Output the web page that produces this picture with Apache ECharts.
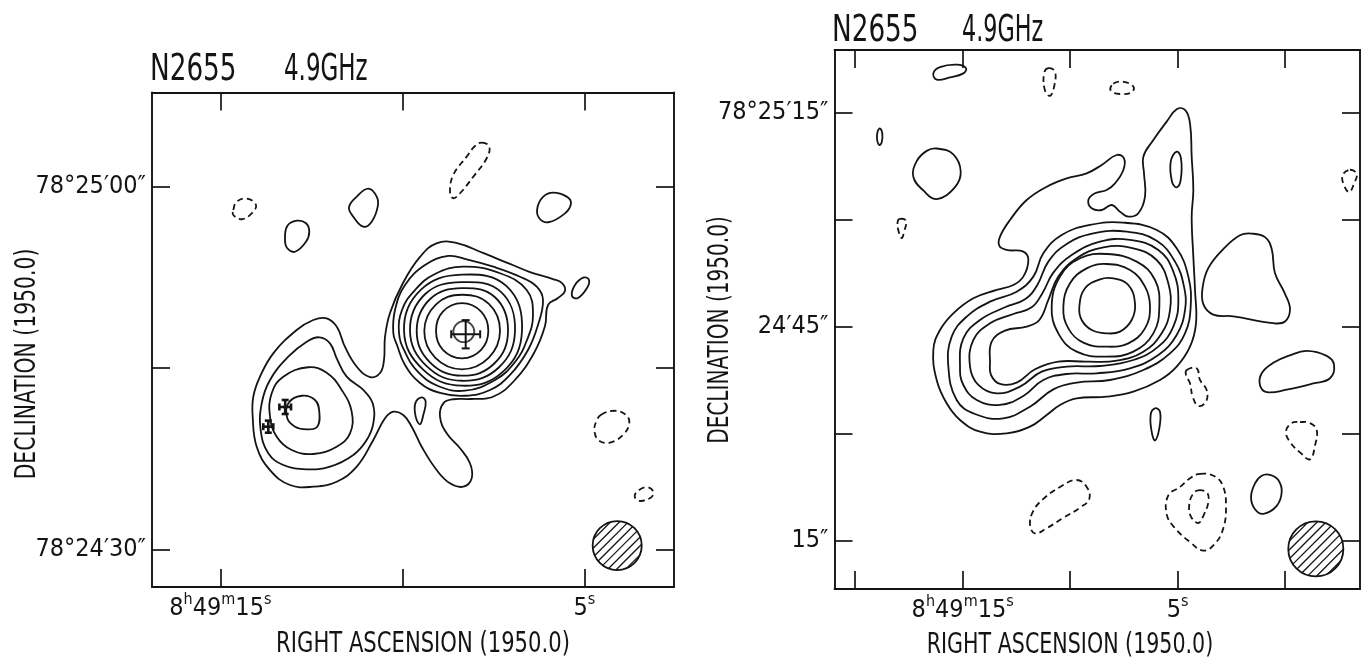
<!DOCTYPE html>
<html><head><meta charset="utf-8">
<script src="https://cdn.jsdelivr.net/npm/echarts@6/dist/echarts.min.js"></script>
<style>html,body{margin:0;padding:0;background:#fff}#c{width:1361px;height:662px}</style>
</head><body><div id="c"></div>
<script>
// ---------- LEFT PANEL (RA seconds of 8h49m, Dec arcsec past 78d24') ----------
const leftRaTicks = [15, 10, 5];
const leftRaLabels = [15, 5];
const leftDecTicks = [60, 45, 30];
const leftDecLabels = [60, 30];
const leftDecText = {60: '78°25′00″', 30: '78°24′30″'};

// positive contours
const L_C1 = [[14.113,40.99],[14.096,42.64],[13.912,44.30],[13.547,46.23],[12.904,48.16],[12.448,48.99],[12.080,49.13],[11.797,48.41],[11.577,46.76],[11.247,45.10],[10.890,44.27],[10.615,44.60],[10.505,45.68],[10.478,47.58],[10.341,49.57],[9.984,52.05],[9.516,54.21],[9.049,55.36],[8.500,55.36],[7.786,54.54],[7.044,53.63],[6.494,52.96],[5.862,52.38],[5.615,52.05],[5.533,51.39],[5.725,50.81],[6.000,50.23],[6.082,48.49],[6.384,46.26],[6.934,43.94],[7.511,42.64],[8.143,42.45],[8.602,42.43],[8.876,42.09],[8.967,40.99],[8.783,39.61],[8.417,38.37],[8.143,37.13],[8.096,35.89],[8.327,35.19],[8.692,35.47],[9.058,36.57],[9.470,38.50],[9.744,40.16],[9.975,41.13],[10.250,41.40],[10.478,40.85],[10.799,39.06],[11.255,36.85],[11.805,35.60],[12.448,35.19],[13.088,35.33],[13.637,36.57],[14.003,38.50]];
const L_C2 = [[12.283,47.56],[11.989,47.06],[11.805,45.82],[11.530,44.30],[11.074,43.20],[10.816,42.09],[10.799,40.44],[10.981,39.06],[11.349,37.82],[11.989,36.85],[12.629,36.63],[13.272,36.99],[13.684,37.96],[13.893,39.88],[13.865,42.09],[13.637,44.02],[13.135,45.95],[12.629,47.19]];
const L_C3 = [[12.585,45.08],[12.080,44.63],[11.667,43.20],[11.393,41.40],[11.439,39.61],[11.805,38.50],[12.448,37.90],[13.041,38.23],[13.453,39.33],[13.637,40.99],[13.591,42.92],[13.272,44.30]];
const L_C4 = [[12.766,42.72],[12.401,42.37],[12.283,41.40],[12.338,40.16],[12.629,39.94],[12.950,40.16],[13.162,40.85],[13.135,42.09]];
const L_R1 = [[8.739,54.29],[8.233,54.01],[7.503,53.40],[6.769,52.57],[6.310,51.75],[6.137,50.65],[6.275,48.58],[6.549,46.51],[7.044,44.44],[7.593,43.20],[8.280,42.72],[8.967,42.95],[9.516,43.78],[9.928,45.27],[10.148,46.92],[10.250,47.91],[10.203,49.82],[9.928,51.89],[9.379,53.54]];
const L_R2 = [[8.327,53.40],[7.318,52.86],[6.585,51.47],[6.412,49.40],[6.577,47.33],[6.906,45.51],[7.456,44.02],[8.280,43.14],[9.022,43.53],[9.571,44.69],[9.928,46.34],[10.093,47.91],[10.011,49.82],[9.654,51.47],[9.104,52.80]];
const L_R3 = [[6.714,48.10],[7.138,51.79],[8.362,52.74],[9.489,51.50],[9.955,48.10],[9.430,44.88],[8.362,43.55],[7.235,44.71]];
const L_R4 = [[6.906,48.10],[7.294,51.32],[8.362,52.12],[9.372,51.14],[9.791,48.10],[9.333,45.17],[8.362,43.96],[7.352,45.06]];
const L_R5 = [[7.098,48.10],[7.449,50.85],[8.362,51.62],[9.236,50.73],[9.607,48.10],[9.236,45.47],[8.362,44.38],[7.468,45.41]];
const L_R6 = [[7.318,48.10],[7.624,50.32],[8.362,51.08],[9.081,50.27],[9.398,48.10],[9.100,45.88],[8.362,44.91],[7.624,45.88]];
const L_R7 = [[7.639,48.10],[7.837,49.68],[8.362,50.38],[8.887,49.68],[9.076,48.10],[8.887,46.52],[8.362,45.82],[7.837,46.52]];
const L_P1 = [[12.904,57.21],[12.648,57.00],[12.558,56.30],[12.648,55.47],[12.950,54.64],[13.162,54.93],[13.225,55.61],[13.162,56.77]];
const L_P2 = [[10.937,59.86],[10.706,59.20],[10.678,58.37],[10.843,57.13],[11.074,56.71],[11.349,57.54],[11.467,58.32],[11.255,59.20]];
const L_P3 = [[5.854,59.53],[5.486,59.20],[5.368,58.65],[5.533,57.82],[5.991,57.08],[6.239,57.41],[6.294,58.24],[6.129,59.20]];
const L_P4 = [[5.011,52.51],[4.873,52.30],[4.928,51.64],[5.176,50.81],[5.340,50.98],[5.258,51.89]];
const L_P5 = [[9.470,42.59],[9.360,42.23],[9.426,41.13],[9.516,40.36],[9.635,40.99],[9.645,42.09]];
// negative contours
const L_N1 = [[14.645,58.10],[14.552,58.78],[14.277,59.03],[14.022,58.51],[14.140,57.82],[14.415,57.33],[14.645,57.68]];
const L_N2 = [[7.821,63.67],[7.612,63.34],[7.684,62.38],[8.052,60.85],[8.417,59.48],[8.601,59.07],[8.692,59.61],[8.601,61.00],[8.234,62.51],[8.005,63.39]];
const L_N3 = [[4.541,41.15],[4.173,41.48],[3.865,41.15],[3.766,40.50],[3.926,39.51],[4.297,38.85],[4.602,39.02],[4.725,39.83],[4.665,40.65]];
const L_N4 = [[3.497,34.91],[3.252,35.14],[3.104,34.74],[3.189,34.26],[3.497,34.02],[3.618,34.42]];
// source positions with errors: [ra, dec, errRa(s), errDec(")]
const L_sources = [[8.261,47.81,0.398,1.17],[13.220,41.79,0.160,0.58],[13.684,40.16,0.137,0.50]];
const L_ring = [[8.313,48.02]];
const L_beam = [[4.099,30.32,2.03]];

// ---------- RIGHT PANEL ----------
const rightRaTicks = [20, 15, 10, 5, 0];
const rightRaLabels = [15, 5];
const rightDecTicks = [75, 60, 45, 30, 15];
const rightDecLabels = [75, 45, 15];
const rightDecText = {75: '78°25′15″', 45: '24′45″', 15: '15″'};

const R_M1 = [[16.366,41.78],[16.056,44.58],[15.436,46.92],[14.505,49.02],[13.420,50.19],[12.645,50.89],[12.180,52.06],[11.947,54.39],[12.180,55.56],[12.955,55.80],[13.296,56.36],[13.265,57.66],[12.800,60.00],[12.025,62.80],[11.094,64.67],[10.164,65.84],[9.234,66.54],[8.536,67.71],[7.839,69.11],[7.498,68.65],[7.529,67.01],[7.916,65.14],[8.304,64.21],[8.846,63.74],[9.156,62.80],[9.001,61.64],[8.536,61.40],[8.071,62.10],[7.684,61.17],[7.296,60.47],[6.831,60.94],[6.521,63.27],[6.567,66.54],[6.598,68.88],[6.133,71.22],[5.513,73.79],[5.048,75.52],[4.660,75.42],[4.428,73.55],[4.350,68.88],[4.273,64.21],[4.350,60.47],[4.273,54.86],[4.195,50.19],[4.149,45.51],[4.428,42.24],[5.048,39.44],[5.823,37.57],[7.063,35.93],[8.304,35.23],[9.699,35.00],[10.474,34.07],[11.094,32.66],[11.870,31.03],[12.955,30.09],[14.195,30.33],[15.126,31.96],[15.746,34.30],[16.211,37.57]];
const R_M2 = [[15.668,39.44],[15.513,43.65],[14.815,46.45],[13.730,48.55],[12.490,49.95],[11.715,52.06],[11.250,55.33],[10.397,57.90],[9.079,59.30],[7.529,59.63],[5.978,58.60],[5.048,56.03],[4.505,52.06],[4.397,47.85],[4.660,44.11],[5.358,41.31],[6.598,38.97],[8.149,37.57],[9.699,37.20],[10.784,36.26],[11.870,33.83],[13.110,32.20],[14.428,32.80],[15.281,34.77]];
const R_M3 = [[15.126,39.44],[14.970,43.41],[14.195,45.98],[13.032,47.76],[12.102,48.88],[11.529,50.89],[11.017,54.16],[10.164,56.64],[8.924,58.13],[7.374,58.37],[5.978,57.10],[5.125,54.16],[4.707,50.65],[4.660,47.38],[5.048,43.88],[5.901,41.07],[7.218,39.21],[8.769,38.50],[10.164,38.41],[11.250,37.57],[12.180,35.33],[13.265,34.07],[14.350,34.77],[14.970,36.87]];
const R_M4 = [[14.660,39.44],[14.505,43.18],[13.730,45.51],[12.645,46.82],[11.792,47.76],[11.281,49.81],[10.784,52.62],[9.932,55.09],[8.614,56.96],[7.218,57.20],[5.901,55.80],[5.203,52.76],[4.970,48.79],[5.203,45.05],[5.901,42.24],[7.063,40.37],[8.614,39.53],[10.164,39.44],[11.327,38.74],[12.335,36.64],[13.420,35.70],[14.273,36.87]];
const R_M5 = [[13.730,39.91],[13.653,42.94],[13.032,44.49],[12.025,45.05],[11.436,45.98],[11.017,48.79],[10.552,52.06],[9.699,54.63],[8.459,56.17],[7.063,56.03],[5.978,54.39],[5.436,51.12],[5.358,47.38],[5.746,44.11],[6.598,41.54],[7.839,40.28],[9.234,40.14],[10.552,40.14],[11.637,39.07],[12.490,37.20],[13.265,37.01],[13.684,38.27]];
const R_M6 = [[10.862,47.85],[10.474,52.06],[9.544,54.63],[8.304,55.23],[6.908,54.16],[6.056,51.59],[5.854,47.85],[6.133,44.11],[7.063,41.54],[8.304,40.84],[9.699,41.54],[10.552,44.11]];
const R_M7 = [[10.319,47.85],[10.009,51.12],[9.234,53.22],[8.304,53.83],[7.218,52.99],[6.521,50.65],[6.288,47.85],[6.521,44.81],[7.296,42.71],[8.304,42.24],[9.389,42.80],[10.087,44.81]];
const R_M8 = [[9.575,47.85],[9.312,50.42],[8.614,51.68],[7.994,51.82],[7.296,50.89],[6.986,48.32],[7.141,45.98],[7.684,44.35],[8.304,44.11],[9.001,44.58],[9.467,45.98]];
const R_P1 = [[16.367,80.55],[16.056,81.42],[15.279,81.77],[14.846,81.28],[14.972,80.55],[15.591,79.98],[16.209,79.68]];
const R_P2 = [[18.846,72.83],[18.739,72.10],[18.767,70.89],[18.879,70.51],[18.986,71.38],[18.953,72.44]];
const R_P3 = [[16.209,70.02],[15.437,69.21],[15.093,66.79],[15.358,64.61],[16.209,62.93],[16.832,64.14],[17.297,66.07],[17.140,68.24],[16.674,69.69]];
const R_P4 = [[1.558,58.09],[0.939,57.60],[0.628,55.92],[0.474,52.54],[0.009,49.64],[-0.223,47.47],[0.009,45.77],[0.553,45.53],[2.414,46.50],[3.344,46.74],[3.809,48.20],[3.837,50.61],[3.577,53.26],[2.879,55.92],[2.102,57.86]];
const R_P5 = [[-1.000,41.66],[-1.930,40.95],[-2.270,39.73],[-2.084,37.81],[-1.307,37.08],[-0.070,36.21],[0.860,35.87],[1.172,36.84],[1.093,38.52],[0.553,39.98],[-0.223,41.03]];
const R_P6 = [[0.707,24.28],[0.321,23.55],[0.163,21.86],[0.395,19.93],[1.018,18.81],[1.404,19.44],[1.590,21.14],[1.404,23.07],[1.093,24.14]];
const R_P7 = [[6.056,33.60],[5.823,33.11],[5.856,30.80],[6.056,29.10],[6.209,30.31],[6.256,32.73]];
const R_P8 = [[5.047,69.58],[4.846,68.65],[4.860,65.61],[5.047,64.58],[5.265,65.37],[5.325,68.17]];
const R_N1 = [[11.018,81.28],[10.707,80.80],[10.753,78.63],[10.939,77.41],[11.172,78.14],[11.218,80.55]];
const R_N2 = [[7.995,79.11],[7.530,79.35],[7.064,78.72],[7.139,77.90],[7.684,77.66],[8.117,78.14]];
const R_N3 = [[17.916,60.17],[17.637,59.87],[17.730,58.33],[17.837,57.46],[17.995,58.57],[18.023,59.79]];
const R_N4 = [[-3.014,67.04],[-3.326,66.45],[-3.200,65.10],[-2.981,63.90],[-2.735,64.87],[-2.674,66.31]];
const R_N5 = [[-0.689,31.67],[-1.154,31.53],[-1.466,30.56],[-1.386,28.39],[-1.154,26.45],[-0.689,27.42],[-0.223,28.88],[-0.037,30.32],[-0.302,31.53]];
const R_N6 = [[3.963,24.42],[3.265,24.04],[2.879,22.58],[2.753,19.68],[2.879,16.79],[3.265,14.62],[3.809,13.65],[4.428,14.86],[5.125,16.79],[5.511,18.73],[5.437,21.38],[4.893,22.58],[4.428,23.79]];
const R_N7 = [[4.042,22.11],[3.624,21.71],[3.577,20.41],[3.777,18.73],[4.042,17.52],[4.396,18.49],[4.461,20.17],[4.303,21.52]];
const R_N8 = [[4.583,38.97],[4.118,39.21],[3.963,37.57],[3.653,36.17],[3.684,34.53],[4.040,33.93],[4.304,35.23],[4.428,37.10],[4.614,38.27]];
const R_N9 = [[9.698,23.55],[9.233,22.58],[9.112,20.90],[9.544,19.68],[10.321,18.24],[11.093,16.79],[11.637,16.07],[11.870,17.27],[11.716,19.21],[11.251,20.90],[10.474,22.58]];
const R_beam = [[-1.424,13.89,3.86]];

// ---------- build ----------
const FF = "'DejaVu Sans Condensed','Liberation Sans Narrow','DejaVu Sans',sans-serif";
const INK = '#141414';
const leftSolid = [L_C1,L_C2,L_C3,L_C4,L_R1,L_R2,L_R3,L_R4,L_R5,L_R6,L_R7,L_P1,L_P2,L_P3,L_P4,L_P5];
const leftDashed = [L_N1,L_N2,L_N3,L_N4];
const rightSolid = [R_M1,R_M2,R_M3,R_M4,R_M5,R_M6,R_M7,R_M8,R_P1,R_P2,R_P3,R_P4,R_P5,R_P6,R_P7,R_P8];
const rightDashed = [R_N1,R_N2,R_N3,R_N4,R_N5,R_N6,R_N7,R_N8,R_N9];

function contourSeries(list, ax, dashed) {
  return {
    type: 'custom', xAxisIndex: ax, yAxisIndex: ax, silent: true, animation: false,
    data: list.map((c, i) => [c[0][0], c[0][1], i]),
    encode: {x: 0, y: 1},
    renderItem: (params, api) => {
      const pts = list[api.value(2)].map(p => api.coord(p));
      return {type: 'polygon', shape: {points: pts, smooth: 0.42},
        style: {fill: 'none', stroke: INK, lineWidth: 1.8, lineDash: dashed ? [6, 4] : null}};
    }
  };
}
function sourceSeries(list) {
  return {
    type: 'custom', xAxisIndex: 0, yAxisIndex: 0, silent: true, animation: false,
    data: list, encode: {x: 0, y: 1},
    renderItem: (params, api) => {
      const ra = api.value(0), de = api.value(1), er = api.value(2), ed = api.value(3);
      const l = api.coord([ra + er, de]), r = api.coord([ra - er, de]);
      const t = api.coord([ra, de + ed]), b = api.coord([ra, de - ed]);
      const cap = params.dataIndex === 0 ? 4 : 3.5, w = params.dataIndex === 0 ? 2 : 2.6;
      const st = {stroke: INK, lineWidth: w};
      const L = (x1, y1, x2, y2) => ({type: 'line', shape: {x1, y1, x2, y2}, style: st});
      return {type: 'group', children: [
        L(l[0], l[1], r[0], r[1]), L(t[0], t[1], b[0], b[1]),
        L(l[0], l[1] - cap, l[0], l[1] + cap), L(r[0], r[1] - cap, r[0], r[1] + cap),
        L(t[0] - cap, t[1], t[0] + cap, t[1]), L(b[0] - cap, b[1], b[0] + cap, b[1])
      ]};
    }
  };
}
function beamSeries(list, ax) {
  return {
    type: 'custom', xAxisIndex: ax, yAxisIndex: ax, silent: true, animation: false,
    data: list, encode: {x: 0, y: 1},
    renderItem: (params, api) => {
      const c = api.coord([api.value(0), api.value(1)]);
      const t = api.coord([api.value(0), api.value(1) + api.value(2)]);
      const R = Math.abs(c[1] - t[1]);
      const kids = [{type: 'circle', shape: {cx: c[0], cy: c[1], r: R}, style: {fill: 'none', stroke: INK, lineWidth: 1.8}}];
      const s = Math.SQRT1_2, gap = 6.3;
      for (let d = -R + gap / 2; d < R; d += gap) {
        const h = Math.sqrt(Math.max(R * R - d * d, 0));
        const px = c[0] + s * d, py = c[1] + s * d;
        kids.push({type: 'line', shape: {x1: px - s * h, y1: py + s * h, x2: px + s * h, y2: py - s * h},
          style: {stroke: INK, lineWidth: 1.3}});
      }
      return {type: 'group', children: kids};
    }
  };
}

const lineSt = {color: INK, width: 1.9};
const tickSt = {color: INK, width: 1.7};
const rich = {
  n: {fontSize: 25, fontFamily: FF, color: INK, verticalAlign: 'top', lineHeight: 30},
  s: {fontSize: 16, fontFamily: FF, color: INK, verticalAlign: 'top', lineHeight: 30, padding: [-4, 0, 0, 0]}
};
function raFmt(v) { return Math.abs(v - 15) < 1e-6 ? '{n|8}{s|h}{n|49}{s|m}{n|15}{s|s}' : '{n|5}{s|s}'; }

function xAx(grid, min, max, ticks, labels, pos) {
  return {type: 'value', gridIndex: grid, min, max, inverse: true, position: pos,
    axisLine: {show: true, onZero: false, lineStyle: lineSt},
    axisTick: {show: true, inside: true, length: 18, lineStyle: tickSt, customValues: ticks},
    axisLabel: pos === 'bottom' ? {show: true, customValues: labels, formatter: raFmt, margin: 9, rich} : {show: false},
    splitLine: {show: false}};
}
function yAx(grid, min, max, ticks, labels, texts, pos) {
  return {type: 'value', gridIndex: grid, min, max, position: pos,
    axisLine: {show: true, onZero: false, lineStyle: lineSt},
    axisTick: {show: true, inside: true, length: 18, lineStyle: tickSt, customValues: ticks},
    axisLabel: pos === 'left' ? {show: true, customValues: labels, formatter: v => texts[Math.round(v)],
      margin: 6, fontSize: 25, fontFamily: FF, color: INK} : {show: false},
    splitLine: {show: false}};
}
function txt(x, y, text, size, sx, extra) {
  return Object.assign({type: 'text', x, y, scaleX: sx, silent: true,
    style: {text, font: size + 'px ' + FF, fill: INK, verticalAlign: 'middle', align: 'left'}}, extra || {});
}

const option = {
  backgroundColor: '#fff',
  animation: false,
  grid: [
    {left: 152, top: 92.5, width: 522, height: 494.5, outerBoundsMode: 'none'},
    {left: 834.5, top: 50, width: 525.5, height: 539, outerBoundsMode: 'none'}
  ],
  xAxis: [
    xAx(0, 2.538, 16.879, leftRaTicks, leftRaLabels, 'bottom'),
    xAx(0, 2.538, 16.879, leftRaTicks, leftRaLabels, 'top'),
    xAx(1, -3.479, 20.963, rightRaTicks, rightRaLabels, 'bottom'),
    xAx(1, -3.479, 20.963, rightRaTicks, rightRaLabels, 'top')
  ],
  yAxis: [
    yAx(0, 26.89, 67.82, leftDecTicks, leftDecLabels, leftDecText, 'left'),
    yAx(0, 26.89, 67.82, leftDecTicks, leftDecLabels, leftDecText, 'right'),
    yAx(1, 8.27, 83.83, rightDecTicks, rightDecLabels, rightDecText, 'left'),
    yAx(1, 8.27, 83.83, rightDecTicks, rightDecLabels, rightDecText, 'right')
  ],
  graphic: [
    txt(150, 70, 'N2655', 37, 0.79),
    txt(284, 70, '4.9GHz', 37, 0.69),
    txt(832, 31, 'N2655', 37, 0.79),
    txt(962, 31, '4.9GHz', 37, 0.67),
    {type: 'text', x: 423, y: 644, scaleX: 0.81, silent: true, style: {text: 'RIGHT ASCENSION (1950.0)', font: '29px ' + FF, fill: INK, align: 'center', verticalAlign: 'middle'}},
    {type: 'text', x: 1070, y: 645, scaleX: 0.79, silent: true, style: {text: 'RIGHT ASCENSION (1950.0)', font: '29px ' + FF, fill: INK, align: 'center', verticalAlign: 'middle'}},
    {type: 'text', x: 27, y: 364, rotation: Math.PI / 2, scaleX: 0.78, silent: true, style: {text: 'DECLINATION (1950.0)', font: '29px ' + FF, fill: INK, align: 'center', verticalAlign: 'middle'}},
    {type: 'text', x: 720, y: 330, rotation: Math.PI / 2, scaleX: 0.77, silent: true, style: {text: 'DECLINATION (1950.0)', font: '29px ' + FF, fill: INK, align: 'center', verticalAlign: 'middle'}}
  ],
  series: [
    contourSeries(leftSolid, 0, false),
    contourSeries(leftDashed, 0, true),
    contourSeries(rightSolid, 2, false),
    contourSeries(rightDashed, 2, true),
    sourceSeries(L_sources),
    {type: 'scatter', xAxisIndex: 0, yAxisIndex: 0, data: L_ring, symbol: 'circle', symbolSize: 21, silent: true,
      itemStyle: {color: 'rgba(0,0,0,0)', borderColor: INK, borderWidth: 1.8}},
    beamSeries(L_beam, 0),
    beamSeries(R_beam, 2)
  ]
};
const chart = echarts.init(document.getElementById('c'), null, {renderer: 'canvas'});
chart.setOption(option);
</script></body></html>
